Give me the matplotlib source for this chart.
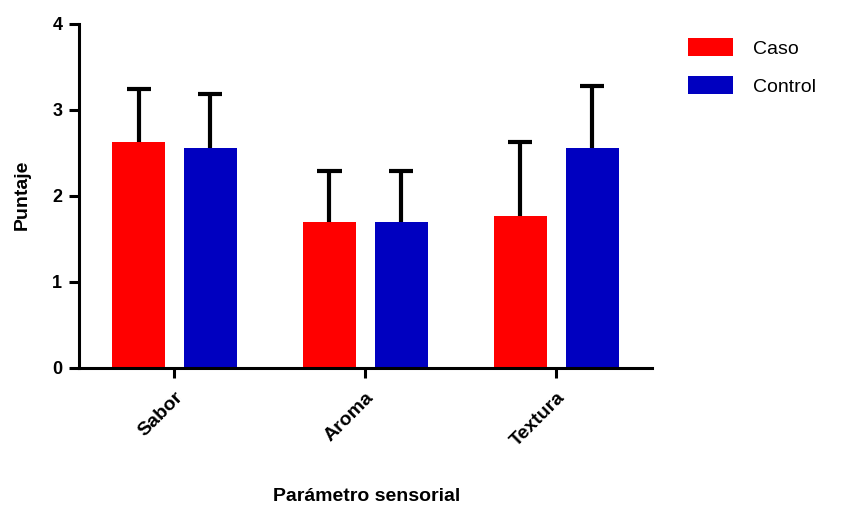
import numpy as np
import matplotlib.pyplot as plt

plt.rcParams['font.family'] = ['Liberation Sans', 'DejaVu Sans']

# datos
categorias = ['Sabor', 'Aroma', 'Textura']
caso = [2.63, 1.70, 1.77]
caso_sd = [0.61, 0.59, 0.86]
control = [2.56, 1.70, 2.56]
control_sd = [0.63, 0.59, 0.72]

x = np.arange(len(categorias))
w = 0.277
off = 0.188
cap = 0.063

fig = plt.figure(figsize=(8.53, 5.08), dpi=100)
ax = fig.add_axes([0.0926, 0.2756, 0.6715, 0.6772])

b1 = ax.bar(x - off, caso, w, color='#ff0000', label='Caso', zorder=2)
b2 = ax.bar(x + off, control, w, color='#0000c0', label='Control', zorder=2)

# barras de error solo hacia arriba
for xs, ys, sd in [(x - off, caso, caso_sd), (x + off, control, control_sd)]:
    tops = np.array(ys) + np.array(sd)
    ax.vlines(xs, ys, tops, color='black', linewidth=3, zorder=3)
    ax.hlines(tops, xs - cap, xs + cap, color='black', linewidth=3, zorder=3)

ax.set_xlim(-0.5, 2.5)
ax.set_ylim(0, 4)
ax.set_yticks([0, 1, 2, 3, 4])
ax.set_xticks(x)
ax.set_xticklabels(categorias, rotation=45, ha='right', rotation_mode='anchor',
                   fontsize=14, fontweight='bold')
for t in ax.get_yticklabels():
    t.set_fontsize(13)
    t.set_fontweight('bold')

for s in ['top', 'right']:
    ax.spines[s].set_visible(False)
for s in ['left', 'bottom']:
    ax.spines[s].set_linewidth(2.2)
ax.tick_params(width=2.2, length=7)
ax.tick_params(axis='x', pad=8)
ax.tick_params(axis='y', pad=5)

ax.set_ylabel('Puntaje', fontsize=14, fontweight='bold')
ax.set_xlabel('Parámetro sensorial', fontsize=14, fontweight='bold')
ax.yaxis.set_label_coords(0.026, 0.616, transform=fig.transFigure)
ax.xaxis.set_label_coords(0.430, 0.022, transform=fig.transFigure)
ax.yaxis.label.set_va('center')
ax.xaxis.label.set_va('center')

fig.legend(handles=[b1, b2], labels=['Caso', 'Control'], loc='upper left',
           bbox_to_anchor=(0.798, 0.941), frameon=False, fontsize=14,
           handlelength=2.3, handleheight=1.08, handletextpad=1.0,
           labelspacing=0.95, borderaxespad=0)

plt.savefig('out.png', dpi=100)
